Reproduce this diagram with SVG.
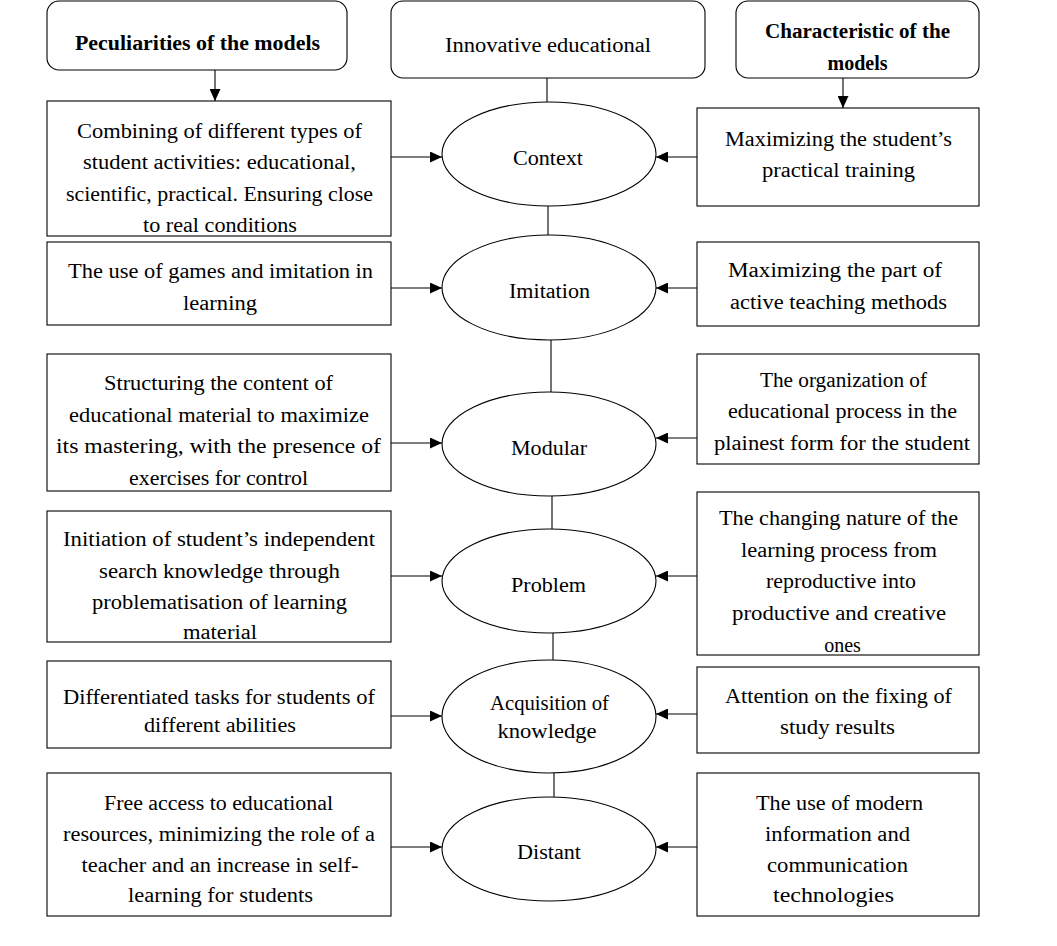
<svg xmlns="http://www.w3.org/2000/svg" width="1057" height="946" viewBox="0 0 1057 946">
<defs>
<marker id="ah" markerUnits="userSpaceOnUse" markerWidth="12" markerHeight="11" refX="12" refY="5.5" orient="auto">
<path d="M0,0 L12,5.5 L0,11 z" fill="#000"/>
</marker>
<style>
rect,ellipse{fill:#fff;stroke:#000;stroke-width:1.1}
line{stroke:#000;stroke-width:1.1}
.a{marker-end:url(#ah)}
text{font-family:"Liberation Serif","Times New Roman",serif;font-size:20px;fill:#000;text-anchor:middle}
.b{font-weight:bold}
</style>
</defs>
<rect width="1057" height="946" fill="#fff" style="stroke:none"/>
<g id="connectors">
<line x1="547" y1="78" x2="547" y2="102"/>
<line x1="548" y1="206" x2="548" y2="235"/>
<line x1="551" y1="340" x2="551" y2="392"/>
<line x1="552" y1="496" x2="552" y2="529"/>
<line x1="553" y1="633" x2="553" y2="660"/>
<line x1="554" y1="773" x2="554" y2="797"/>
<line class="a" x1="215" y1="70" x2="215" y2="101"/>
<line class="a" x1="843" y1="78" x2="843" y2="108"/>
<line class="a" x1="391" y1="157" x2="442" y2="157"/>
<line class="a" x1="391" y1="288" x2="442" y2="288"/>
<line class="a" x1="391" y1="443" x2="442" y2="443"/>
<line class="a" x1="391" y1="576" x2="442" y2="576"/>
<line class="a" x1="391" y1="716" x2="442" y2="716"/>
<line class="a" x1="391" y1="847" x2="442" y2="847"/>
<line class="a" x1="697" y1="157" x2="656" y2="157"/>
<line class="a" x1="697" y1="288" x2="656" y2="288"/>
<line class="a" x1="697" y1="438" x2="656" y2="438"/>
<line class="a" x1="697" y1="576" x2="656" y2="576"/>
<line class="a" x1="697" y1="714" x2="656" y2="714"/>
<line class="a" x1="697" y1="847" x2="656" y2="847"/>
</g>
<g id="peculiarities">
<rect x="47" y="1" width="300" height="69" rx="12"/>
<text class="b" x="197.5" y="50" textLength="245" lengthAdjust="spacingAndGlyphs">Peculiarities of the models</text>
</g>
<g id="innovative">
<rect x="391" y="1" width="314" height="77" rx="12"/>
<text x="548" y="52" textLength="206" lengthAdjust="spacingAndGlyphs">Innovative educational</text>
</g>
<g id="characteristic">
<rect x="736" y="1" width="243" height="77" rx="12"/>
<text class="b" x="857.5" y="38" textLength="185" lengthAdjust="spacingAndGlyphs">Characteristic of the</text>
<text class="b" x="857.5" y="70">models</text>
</g>
<g id="context">
<ellipse cx="549" cy="154" rx="107" ry="52"/>
<text x="548" y="165" textLength="70" lengthAdjust="spacingAndGlyphs">Context</text>
</g>
<g id="imitation">
<ellipse cx="549" cy="287.5" rx="107" ry="52.5"/>
<text x="549.5" y="298" textLength="81" lengthAdjust="spacingAndGlyphs">Imitation</text>
</g>
<g id="modular">
<ellipse cx="549" cy="444" rx="107" ry="52"/>
<text x="549" y="455" textLength="76" lengthAdjust="spacingAndGlyphs">Modular</text>
</g>
<g id="problem">
<ellipse cx="549" cy="581" rx="107" ry="52"/>
<text x="548.5" y="592" textLength="75" lengthAdjust="spacingAndGlyphs">Problem</text>
</g>
<g id="acquisition">
<ellipse cx="549" cy="716.5" rx="107" ry="56.5"/>
<text x="549.5" y="710" textLength="119" lengthAdjust="spacingAndGlyphs">Acquisition of</text>
<text x="547" y="738" textLength="99" lengthAdjust="spacingAndGlyphs">knowledge</text>
</g>
<g id="distant">
<ellipse cx="549" cy="849" rx="107" ry="52"/>
<text x="549" y="859" textLength="64" lengthAdjust="spacingAndGlyphs">Distant</text>
</g>
<g id="left1">
<rect x="47" y="101" width="344" height="135"/>
<text x="219.5" y="138" textLength="285" lengthAdjust="spacingAndGlyphs">Combining of different types of</text>
<text x="219.5" y="169" textLength="273" lengthAdjust="spacingAndGlyphs">student activities: educational,</text>
<text x="219.5" y="201" textLength="307" lengthAdjust="spacingAndGlyphs">scientific, practical. Ensuring close</text>
<text x="220" y="232" textLength="154" lengthAdjust="spacingAndGlyphs">to real conditions</text>
</g>
<g id="left2">
<rect x="47" y="242" width="344" height="83"/>
<text x="220.5" y="278" textLength="305" lengthAdjust="spacingAndGlyphs">The use of games and imitation in</text>
<text x="220" y="310" textLength="74" lengthAdjust="spacingAndGlyphs">learning</text>
</g>
<g id="left3">
<rect x="47" y="354" width="344" height="137"/>
<text x="218.5" y="390" textLength="229" lengthAdjust="spacingAndGlyphs">Structuring the content of</text>
<text x="219" y="422" textLength="300" lengthAdjust="spacingAndGlyphs">educational material to maximize</text>
<text x="218.5" y="453" textLength="325" lengthAdjust="spacingAndGlyphs">its mastering, with the presence of</text>
<text x="218.5" y="485" textLength="179" lengthAdjust="spacingAndGlyphs">exercises for control</text>
</g>
<g id="left4">
<rect x="47" y="511" width="344" height="131"/>
<text x="219" y="546" textLength="312" lengthAdjust="spacingAndGlyphs">Initiation of student’s independent</text>
<text x="219.5" y="578" textLength="241" lengthAdjust="spacingAndGlyphs">search knowledge through</text>
<text x="219.5" y="609" textLength="255" lengthAdjust="spacingAndGlyphs">problematisation of learning</text>
<text x="220" y="639" textLength="74" lengthAdjust="spacingAndGlyphs">material</text>
</g>
<g id="left5">
<rect x="47" y="661" width="344" height="87"/>
<text x="219" y="704" textLength="312" lengthAdjust="spacingAndGlyphs">Differentiated tasks for students of</text>
<text x="220" y="732" textLength="152" lengthAdjust="spacingAndGlyphs">different abilities</text>
</g>
<g id="left6">
<rect x="47" y="773" width="344" height="143"/>
<text x="218.5" y="810" textLength="229" lengthAdjust="spacingAndGlyphs">Free access to educational</text>
<text x="219" y="841" textLength="312" lengthAdjust="spacingAndGlyphs">resources, minimizing the role of a</text>
<text x="220" y="872" textLength="277" lengthAdjust="spacingAndGlyphs">teacher and an increase in self-</text>
<text x="220.5" y="902" textLength="185" lengthAdjust="spacingAndGlyphs">learning for students</text>
</g>
<g id="right1">
<rect x="697" y="108" width="282" height="98"/>
<text x="838.5" y="146" textLength="227" lengthAdjust="spacingAndGlyphs">Maximizing the student’s</text>
<text x="838.5" y="177" textLength="153" lengthAdjust="spacingAndGlyphs">practical training</text>
</g>
<g id="right2">
<rect x="697" y="242" width="282" height="84"/>
<text x="835" y="277" textLength="214" lengthAdjust="spacingAndGlyphs">Maximizing the part of</text>
<text x="838.5" y="309" textLength="217" lengthAdjust="spacingAndGlyphs">active teaching methods</text>
</g>
<g id="right3">
<rect x="697" y="354" width="282" height="110"/>
<text x="843.5" y="387" textLength="167" lengthAdjust="spacingAndGlyphs">The organization of</text>
<text x="842.5" y="418" textLength="229" lengthAdjust="spacingAndGlyphs">educational process in the</text>
<text x="842" y="450" textLength="256" lengthAdjust="spacingAndGlyphs">plainest form for the student</text>
</g>
<g id="right4">
<rect x="697" y="492" width="282" height="163"/>
<text x="838.5" y="525" textLength="239" lengthAdjust="spacingAndGlyphs">The changing nature of the</text>
<text x="839" y="557" textLength="196" lengthAdjust="spacingAndGlyphs">learning process from</text>
<text x="841" y="588" textLength="150" lengthAdjust="spacingAndGlyphs">reproductive into</text>
<text x="839" y="620" textLength="214" lengthAdjust="spacingAndGlyphs">productive and creative</text>
<text x="842.5" y="652">ones</text>
</g>
<g id="right5">
<rect x="697" y="667" width="282" height="86"/>
<text x="838.5" y="703" textLength="227" lengthAdjust="spacingAndGlyphs">Attention on the fixing of</text>
<text x="837.5" y="734" textLength="115" lengthAdjust="spacingAndGlyphs">study results</text>
</g>
<g id="right6">
<rect x="697" y="773" width="282" height="143"/>
<text x="839.5" y="810" textLength="167" lengthAdjust="spacingAndGlyphs">The use of modern</text>
<text x="837.5" y="841" textLength="145" lengthAdjust="spacingAndGlyphs">information and</text>
<text x="837.5" y="872" textLength="141" lengthAdjust="spacingAndGlyphs">communication</text>
<text x="833.5" y="902" textLength="121" lengthAdjust="spacingAndGlyphs">technologies</text>
</g>
</svg>
